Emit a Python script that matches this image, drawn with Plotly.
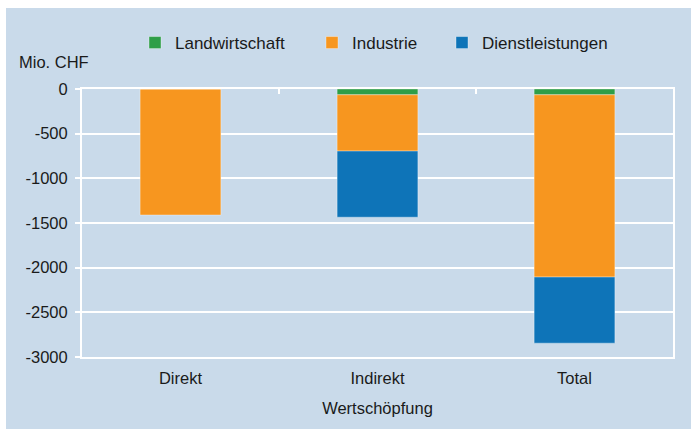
import plotly.graph_objects as go

# Wertschöpfungseffekte nach Sektor (Mio. CHF)
categories = ["Direkt", "Indirekt", "Total"]
landwirtschaft = [0, -65, -65]
industrie = [-1410, -630, -2040]
dienstleistungen = [0, -740, -740]

series_names = ["Landwirtschaft", "Industrie", "Dienstleistungen"]
series_values = [landwirtschaft, industrie, dienstleistungen]
series_colors = ["#2e9e48", "#f7961f", "#0e74b8"]

y_ticks = [0, -500, -1000, -1500, -2000, -2500, -3000]

W, H = 691, 429
BG = "#c9daea"
TXT = "#1a1a1a"
FONT = "Liberation Sans, Arial, Helvetica, sans-serif"
M_L, M_R, M_T, M_B = 82, 18, 89, 72
PW, PH = W - M_L - M_R, H - M_T - M_B

fig = go.Figure()
legend_ids = ["legend", "legend2", "legend3"]
for name, vals, col, lg in zip(series_names, series_values, series_colors, legend_ids):
    fig.add_trace(go.Bar(
        x=categories, y=vals, name=name, legend=lg,
        marker=dict(color=col, line=dict(color="rgba(255,255,255,0.35)", width=1)),
        hoverinfo="x+y+name",
    ))

# boundary tick marks along the zero line
fig.add_trace(go.Scatter(x=[None], y=[None], xaxis="x2", showlegend=False, hoverinfo="skip"))

def legend_at(text_left_px):
    return dict(
        x=(text_left_px - 40) / W, xref="container", xanchor="left",
        y=1 - 43 / H, yref="container", yanchor="middle",
        orientation="h", bgcolor="rgba(0,0,0,0)", borderwidth=0,
        font=dict(family=FONT, size=17, color=TXT),
        itemclick=False, itemdoubleclick=False,
    )

# white frame strips along top and left edge of the page
fx = lambda px: (px - M_L) / PW
fy = lambda py: 1 - (py - M_T) / PH
shapes = [
    dict(type="rect", xref="paper", yref="paper", x0=fx(0), x1=fx(W), y0=fy(8), y1=fy(0),
         fillcolor="white", line=dict(width=0), layer="below"),
    dict(type="rect", xref="paper", yref="paper", x0=fx(0), x1=fx(6), y0=fy(H), y1=fy(0),
         fillcolor="white", line=dict(width=0), layer="below"),
]

fig.update_layout(
    width=W, height=H,
    margin=dict(l=M_L, r=M_R, t=M_T, b=M_B, pad=0),
    paper_bgcolor=BG, plot_bgcolor=BG,
    barmode="relative", bargap=0.59,
    font=dict(family=FONT, size=16.5, color=TXT),
    legend=legend_at(175), legend2=legend_at(352), legend3=legend_at(482),
    shapes=shapes,
    xaxis=dict(
        type="category", range=[-0.5, 2.5],
        showline=True, linecolor="white", linewidth=2, mirror=True,
        showgrid=False, ticks="", tickfont=dict(size=16.5, color=TXT),
        ticklabelstandoff=5,
        title=dict(text="Wertschöpfung", standoff=17, font=dict(size=16.5, color=TXT)),
    ),
    xaxis2=dict(
        overlaying="x", side="top", range=[-0.5, 2.5],
        tickvals=[0.5, 1.5], ticks="inside", ticklen=5, tickwidth=2, tickcolor="white",
        showticklabels=False, showgrid=False, showline=False, zeroline=False,
    ),
    yaxis=dict(
        range=[-3000, 0], tickvals=y_ticks, ticktext=[str(v) for v in y_ticks],
        showgrid=True, gridcolor="white", gridwidth=2,
        showline=True, linecolor="white", linewidth=2, mirror=True,
        zeroline=False, ticks="outside", ticklen=5, tickwidth=2, tickcolor="white",
        ticklabelstandoff=4, tickfont=dict(size=16.5, color=TXT),
    ),
    annotations=[dict(
        text="Mio. CHF", xref="paper", yref="paper", x=fx(17), y=fy(62),
        xanchor="left", yanchor="middle", showarrow=False,
        font=dict(family=FONT, size=16.5, color=TXT),
    )],
)

fig.write_html("out.html")
